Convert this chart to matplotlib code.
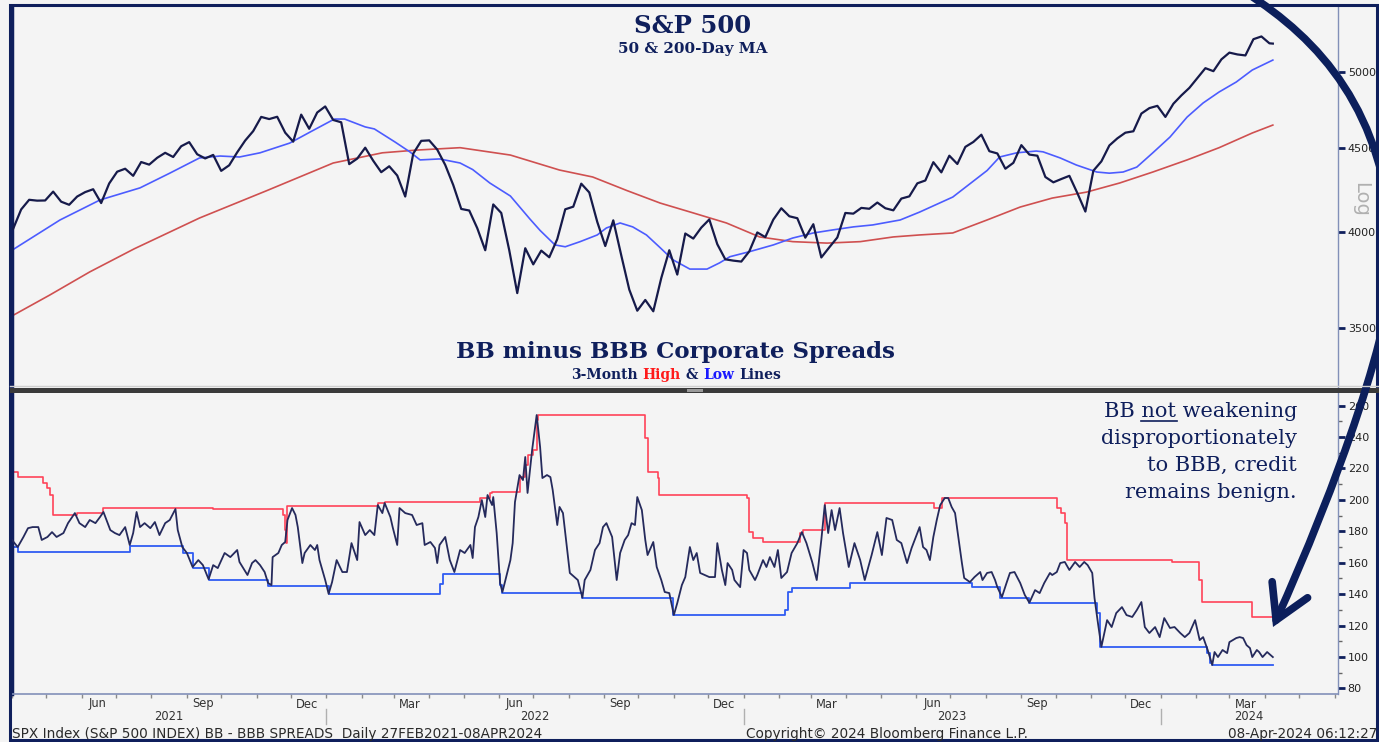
import numpy as np
import pandas as pd
import matplotlib
matplotlib.use('Agg')
import matplotlib.pyplot as plt
import matplotlib.dates as mdates
from matplotlib import transforms
from matplotlib.patches import Rectangle, FancyArrowPatch
from matplotlib.path import Path
from matplotlib.lines import Line2D
from matplotlib.ticker import FixedLocator, NullLocator, FuncFormatter

plt.rcParams['font.family'] = ['DejaVu Sans']

# ---------------- data ----------------
# S&P 500 weekly closes (Fridays) + last day
spx_dates = list(pd.date_range('2021-04-02', '2024-04-05', freq='W-FRI')) + [pd.Timestamp('2024-04-08')]
spx_close = [
    4019, 4129, 4185, 4180, 4181,  4233, 4174, 4156, 4204,  4230, 4247, 4166, 4281,
    4352, 4370, 4327, 4411, 4395,  4437, 4468, 4442, 4509,  4535, 4459, 4433, 4455,
    4357, 4391, 4471, 4545, 4605,  4697, 4683, 4698, 4595,  4538, 4712, 4620, 4726, 4766,
    4677, 4662, 4398, 4432,  4500, 4419, 4349, 4385,  4329, 4204, 4463, 4543,
    4546, 4488, 4393, 4272, 4132,  4123, 4023, 3901, 4158,  4109, 3901, 3675, 3912,
    3825, 3899, 3863, 3962, 4130,  4145, 4280, 4228, 4058,  3924, 4067, 3873, 3693, 3586,
    3640, 3583, 3753, 3901,  3771, 3993, 3965, 4026,  4072, 3934, 3852, 3845, 3840,
    3895, 3999, 3973, 4071,  4136, 4090, 4079, 3970,  4045, 3862, 3917, 3971, 4109,
    4105, 4138, 4133, 4169,  4136, 4124, 4192, 4205,  4282, 4299, 4410, 4348, 4450,
    4399, 4505, 4536, 4582,  4478, 4464, 4370, 4406,  4516, 4457, 4450, 4320, 4288,
    4308, 4327, 4224, 4117,  4358, 4415, 4514, 4559,  4595, 4604, 4719, 4755, 4770,
    4697, 4784, 4840, 4891,  4959, 5027, 5006, 5089,  5137, 5124, 5117, 5234, 5254,
    5204, 5202]

ma50_dates = ['2021-04-03', '2021-05-13', '2021-06-17', '2021-07-22', '2021-08-17', '2021-09-12',
              '2021-09-30', '2021-10-17', '2021-11-04', '2021-11-30', '2021-12-18', '2022-01-08',
              '2022-01-17', '2022-02-04', '2022-02-12', '2022-03-02', '2022-03-15', '2022-03-24',
              '2022-04-10', '2022-04-28', '2022-05-09', '2022-05-24', '2022-06-11', '2022-06-28',
              '2022-07-07', '2022-07-20', '2022-07-29', '2022-08-11', '2022-08-26', '2022-09-03',
              '2022-09-15', '2022-09-26', '2022-10-08', '2022-10-20', '2022-10-31', '2022-11-15',
              '2022-11-30', '2022-12-11', '2022-12-20', '2023-01-06', '2023-01-27', '2023-02-13',
              '2023-03-03', '2023-03-20', '2023-04-07', '2023-04-24', '2023-05-18', '2023-06-04',
              '2023-07-03', '2023-08-02', '2023-08-13', '2023-08-28', '2023-09-14', '2023-09-20',
              '2023-10-05', '2023-10-19', '2023-11-06', '2023-11-17', '2023-11-29', '2023-12-11',
              '2023-12-25', '2024-01-09', '2024-01-24', '2024-02-07', '2024-02-21', '2024-03-07',
              '2024-03-21', '2024-04-08']
ma50 = [3909, 4069, 4184, 4255, 4343, 4436, 4448, 4442, 4468, 4529, 4600, 4683,
        4683, 4632, 4619, 4536, 4474, 4424, 4430, 4405, 4365, 4284, 4207, 4075,
        4010, 3930, 3920, 3948, 3985, 4024, 4052, 4030, 3985, 3915, 3850, 3800,
        3800, 3833, 3866, 3893, 3930, 3968, 3996, 4013, 4030, 4041, 4069, 4114,
        4201, 4359, 4442, 4468, 4479, 4474, 4436, 4393, 4350, 4343, 4350, 4380,
        4468, 4567, 4696, 4789, 4863, 4931, 5014, 5084]

ma200_dates = ['2021-04-01', '2021-05-04', '2021-06-08', '2021-07-17', '2021-09-12', '2021-11-10',
               '2022-01-07', '2022-02-19', '2022-03-21', '2022-04-28', '2022-06-11', '2022-07-24',
               '2022-08-22', '2022-09-21', '2022-10-20', '2022-11-18', '2022-12-17', '2023-01-15',
               '2023-02-13', '2023-03-15', '2023-04-13', '2023-05-12', '2023-06-04', '2023-07-03',
               '2023-08-02', '2023-08-31', '2023-09-28', '2023-10-28', '2023-11-26', '2023-12-25',
               '2024-01-24', '2024-02-21', '2024-03-21', '2024-04-08']
ma200 = [3560, 3665, 3785, 3909, 4080, 4239, 4405, 4468, 4485, 4500, 4454, 4362,
         4320, 4239, 4166, 4109, 4052, 3974, 3948, 3940, 3948, 3974, 3985, 3996,
         4069, 4143, 4195, 4230, 4284, 4350, 4424, 4500, 4593, 4644]

# BB minus BBB spread (bp)
spread_dates = [
    '2021-04-01', '2021-04-06', '2021-04-11', '2021-04-15', '2021-04-19', '2021-04-24', '2021-04-27', '2021-05-02', '2021-05-06', '2021-05-10',
    '2021-05-16', '2021-05-20', '2021-05-26', '2021-05-30', '2021-06-04', '2021-06-08', '2021-06-13', '2021-06-17', '2021-06-20', '2021-06-26',
    '2021-06-30', '2021-07-04', '2021-07-09', '2021-07-13', '2021-07-16', '2021-07-19', '2021-07-22', '2021-07-26', '2021-07-31', '2021-08-04',
    '2021-08-08', '2021-08-13', '2021-08-17', '2021-08-22', '2021-08-24', '2021-08-28', '2021-09-01', '2021-09-06', '2021-09-11', '2021-09-15',
    '2021-09-20', '2021-09-24', '2021-09-28', '2021-10-04', '2021-10-09', '2021-10-15', '2021-10-17', '2021-10-24', '2021-10-28', '2021-10-31',
    '2021-11-04', '2021-11-08', '2021-11-11', '2021-11-14', '2021-11-15', '2021-11-20', '2021-11-23', '2021-11-26', '2021-11-28', '2021-12-02',
    '2021-12-05', '2021-12-07', '2021-12-11', '2021-12-13', '2021-12-18', '2021-12-22', '2021-12-24', '2021-12-26', '2021-12-31', '2022-01-03',
    '2022-01-06', '2022-01-10', '2022-01-15', '2022-01-19', '2022-01-23', '2022-01-28', '2022-01-30', '2022-02-04', '2022-02-08', '2022-02-12',
    '2022-02-15', '2022-02-19', '2022-02-21', '2022-02-26', '2022-02-28', '2022-03-04', '2022-03-06', '2022-03-11', '2022-03-17', '2022-03-21',
    '2022-03-26', '2022-03-28', '2022-04-02', '2022-04-06', '2022-04-08', '2022-04-10', '2022-04-15', '2022-04-19', '2022-04-23', '2022-04-28',
    '2022-05-02', '2022-05-07', '2022-05-09', '2022-05-11', '2022-05-14', '2022-05-17', '2022-05-20', '2022-05-22', '2022-05-26', '2022-05-27',
    '2022-05-30', '2022-06-02', '2022-06-04', '2022-06-06', '2022-06-11', '2022-06-13', '2022-06-15', '2022-06-19', '2022-06-22', '2022-06-24',
    '2022-06-26', '2022-06-30', '2022-07-04', '2022-07-07', '2022-07-09', '2022-07-13', '2022-07-16', '2022-07-18', '2022-07-22', '2022-07-24',
    '2022-07-27', '2022-07-30', '2022-08-02', '2022-08-06', '2022-08-09', '2022-08-13', '2022-08-15', '2022-08-20', '2022-08-24', '2022-08-28',
    '2022-08-31', '2022-09-03', '2022-09-08', '2022-09-12', '2022-09-15', '2022-09-19', '2022-09-22', '2022-09-25', '2022-09-28', '2022-09-30',
    '2022-10-04', '2022-10-07', '2022-10-09', '2022-10-14', '2022-10-17', '2022-10-21', '2022-10-24', '2022-10-28', '2022-11-01', '2022-11-04',
    '2022-11-08', '2022-11-11', '2022-11-15', '2022-11-18', '2022-11-21', '2022-11-24', '2022-11-28', '2022-12-02', '2022-12-07', '2022-12-09',
    '2022-12-13', '2022-12-16', '2022-12-18', '2022-12-22', '2022-12-24', '2022-12-29', '2023-01-01', '2023-01-04', '2023-01-06', '2023-01-11',
    '2023-01-13', '2023-01-18', '2023-01-21', '2023-01-24', '2023-01-28', '2023-01-31', '2023-02-03', '2023-02-08', '2023-02-12', '2023-02-17',
    '2023-02-21', '2023-02-25', '2023-03-02', '2023-03-06', '2023-03-10', '2023-03-13', '2023-03-16', '2023-03-19', '2023-03-22', '2023-03-26',
    '2023-03-29', '2023-04-03', '2023-04-08', '2023-04-13', '2023-04-17', '2023-04-23', '2023-04-28', '2023-05-02', '2023-05-06', '2023-05-11',
    '2023-05-15', '2023-05-19', '2023-05-24', '2023-05-28', '2023-06-04', '2023-06-07', '2023-06-10', '2023-06-13', '2023-06-16', '2023-06-19',
    '2023-06-22', '2023-06-26', '2023-06-29', '2023-07-02', '2023-07-05', '2023-07-07', '2023-07-11', '2023-07-13', '2023-07-18', '2023-07-22',
    '2023-07-27', '2023-07-29', '2023-08-02', '2023-08-06', '2023-08-09', '2023-08-11', '2023-08-15', '2023-08-19', '2023-08-22', '2023-08-26',
    '2023-08-31', '2023-09-04', '2023-09-08', '2023-09-13', '2023-09-17', '2023-09-21', '2023-09-26', '2023-09-28', '2023-10-02', '2023-10-05',
    '2023-10-09', '2023-10-13', '2023-10-18', '2023-10-22', '2023-10-26', '2023-10-29', '2023-11-02', '2023-11-04', '2023-11-07', '2023-11-10',
    '2023-11-15', '2023-11-19', '2023-11-23', '2023-11-28', '2023-12-02', '2023-12-07', '2023-12-11', '2023-12-15', '2023-12-18', '2023-12-22',
    '2023-12-27', '2023-12-31', '2024-01-04', '2024-01-09', '2024-01-13', '2024-01-18', '2024-01-22', '2024-01-26', '2024-01-31', '2024-02-04',
    '2024-02-07', '2024-02-11', '2024-02-15', '2024-02-17', '2024-02-20', '2024-02-24', '2024-02-28', '2024-03-01', '2024-03-04', '2024-03-07',
    '2024-03-10', '2024-03-13', '2024-03-16', '2024-03-19', '2024-03-21', '2024-03-25', '2024-03-27', '2024-03-30', '2024-04-03', '2024-04-08']
spread = [
    174.5, 170, 176.4, 182, 182.7, 182.7, 174.5, 176.4, 179.5, 176.4,
    178.9, 185.2, 191.6, 185.2, 182.7, 187.2, 185.2, 189.1, 192.3, 180.8,
    178.9, 177.6, 182.7, 171.3, 178.9, 192.3, 182.7, 185.2, 182, 185.9,
    177.6, 185.2, 187.2, 194.2, 180.8, 170, 166.2, 157.3, 161.7, 158.5,
    149.5, 158.5, 156.6, 166.2, 163.6, 168.1, 160.5, 152.2, 159.8, 161.7,
    158.5, 154.1, 147.1, 145.8, 163.6, 166.2, 171.3, 173.2, 187.2, 194.8,
    190.4, 182.7, 159.8, 166.2, 171.3, 168.1, 171.3, 161.7, 149, 140.2,
    147.7, 161.7, 154.1, 154.1, 172.5, 161.7, 185.9, 177.6, 180.8, 177.6,
    196.7, 191.6, 198, 189.1, 182.7, 171.3, 194.8, 191.6, 190.4, 184,
    185.2, 171.3, 173.2, 169.4, 159.8, 171.3, 176.4, 161.7, 154.1, 168.1,
    166.2, 171.3, 163, 182.7, 189.1, 199.9, 189.1, 203.1, 196.7, 201.8,
    178.9, 147.1, 141.4, 147.1, 161.7, 172.5, 198.6, 215.8, 212.6, 227.3,
    204.4, 231.7, 254, 233.6, 213.9, 215.8, 214.5, 206.3, 184, 195.5,
    191.6, 172.5, 153.5, 150.9, 149, 137.8, 149, 155.4, 168.1, 172.5,
    182.7, 185.2, 176.4, 149, 166.2, 174.5, 177.6, 185.2, 184, 201.8,
    193.5, 174.5, 164.9, 173.2, 157.3, 149, 141.4, 140.7, 126.8, 134.4,
    145.8, 150.9, 170, 161.7, 166.2, 153.5, 152.2, 150.9, 150.9, 172.5,
    155.4, 145.8, 159.8, 155.4, 149, 144.5, 168.1, 166.2, 155.4, 149,
    152.2, 161.7, 157.3, 163.6, 157.3, 168.1, 150.3, 154.1, 166.2, 172.5,
    179.5, 172.5, 160.5, 149, 174.5, 196.7, 178.9, 193.5, 180.8, 194.8,
    178.9, 157.3, 172.5, 161.7, 149, 164.9, 179.5, 164.9, 188.5, 187.2,
    174.5, 172.5, 159.8, 169.4, 182.7, 170, 168.1, 161.7, 176.4, 187.2,
    196.7, 201.2, 201.2, 195.5, 191.6, 180.8, 159.8, 150.3, 147.7, 150.9,
    154.1, 149, 153.5, 154.1, 149, 144.5, 138.2, 147.1, 153.5, 154.1,
    147.1, 139.5, 134.6, 142.6, 140.7, 147.1, 153.5, 152.2, 154.1, 159.8,
    160.5, 155.4, 160.5, 157.3, 160.5, 158.5, 153.5, 137.5, 121.6, 106.5,
    123.5, 119.1, 128, 131.8, 126.7, 125.5, 129.9, 135, 119.1, 115.3,
    119.1, 112.7, 124.8, 118.5, 119.1, 115.3, 112.7, 115.3, 123.5, 110.8,
    112.7, 104.5, 95, 103.2, 100, 104.5, 102.5, 109.5, 110.8, 112.1,
    112.7, 112.1, 107.6, 105.7, 100, 104.5, 103.2, 100, 103.2, 100]

# 3-month high / low step lines (value holds until next date)
high_dates = ['2021-04-01', '2021-04-06', '2021-04-28', '2021-05-02', '2021-05-04', '2021-05-07', '2021-05-28',
              '2021-06-20', '2021-09-24', '2021-11-24', '2021-11-26', '2021-11-27', '2021-11-28', '2022-02-15',
              '2022-02-21', '2022-05-15', '2022-05-24', '2022-05-26', '2022-06-19', '2022-06-24', '2022-06-26',
              '2022-07-01', '2022-07-04', '2022-07-05', '2022-10-07', '2022-10-09', '2022-10-18', '2022-10-19',
              '2023-01-04', '2023-01-06', '2023-01-09', '2023-01-18', '2023-02-19', '2023-02-22', '2023-03-13',
              '2023-06-17', '2023-06-24', '2023-10-02', '2023-10-06', '2023-10-09', '2023-10-11', '2024-01-11',
              '2024-02-03', '2024-02-06', '2024-03-21', '2024-04-08']
high_vals = [217.7, 214.5, 210.7, 207.5, 203.1, 190.4, 191.6, 194.8, 194.2, 190.4, 180.8, 172.5, 196.1, 198,
             198.6, 201.2, 204.4, 205, 214.5, 222.2, 228.5, 231.7, 250.8, 254, 239.4, 217.7, 213.9, 203.1,
             201.2, 179.5, 175.7, 173.2, 178.9, 180.8, 198, 194.8, 201.2, 194.8, 191.6, 185.2, 161.7, 160.5,
             149, 135, 125.5, 125.5]

low_dates = ['2021-04-01', '2021-04-06', '2021-07-13', '2021-08-29', '2021-09-06', '2021-09-20', '2021-11-11',
             '2022-01-03', '2022-04-10', '2022-04-13', '2022-06-02', '2022-06-04', '2022-08-13', '2022-10-31',
             '2023-02-06', '2023-02-09', '2023-02-12', '2023-04-04', '2023-07-20', '2023-08-13', '2023-09-08',
             '2023-11-06', '2023-11-09', '2024-02-10', '2024-02-13', '2024-02-15', '2024-04-08']
low_vals = [170, 166.8, 170.6, 166.2, 156.6, 149, 145.2, 140, 146.5, 152.8, 145.8, 140.7, 137.5, 126.7,
            129.9, 141.4, 143.9, 147.1, 144.5, 137.5, 134.4, 128, 106.4, 102.5, 96.2, 95, 95]

month_labels = ['Jun', 'Sep', 'Dec', 'Mar', 'Jun', 'Sep', 'Dec', 'Mar', 'Jun', 'Sep', 'Dec', 'Mar']
month_label_dates = ['2021-06-15', '2021-09-15', '2021-12-15', '2022-03-15', '2022-06-15', '2022-09-15',
                     '2022-12-15', '2023-03-15', '2023-06-15', '2023-09-15', '2023-12-15', '2024-03-15']
year_labels = ['2021', '2022', '2023', '2024']
year_label_dates = ['2021-08-16', '2022-07-02', '2023-07-02', '2024-03-18']
year_breaks = ['2022-01-01', '2023-01-01', '2024-01-01']

# ---------------- figure ----------------
W, H = 1379, 742
bg = '#f4f4f4'
navy = '#0f1f5c'
fig = plt.figure(figsize=(W / 100, H / 100), dpi=100, facecolor=bg)
px = transforms.Affine2D().scale(1 / W, -1 / H).translate(0, 1) + fig.transFigure

ax1 = fig.add_axes([12 / W, 1 - 388 / H, 1326 / W, 381 / H], facecolor=bg)
ax2 = fig.add_axes([12 / W, 1 - 694 / H, 1326 / W, 301 / H], facecolor=bg)
x0, x1 = np.datetime64('2021-04-01'), np.datetime64('2024-06-04')

# top panel
ax1.plot(pd.to_datetime(ma200_dates), ma200, color='#cf5050', lw=1.2, zorder=2)
ax1.plot(pd.to_datetime(ma50_dates), ma50, color='#4c5cff', lw=1.2, zorder=2)
ax1.plot(spx_dates, spx_close, color='#161a4a', lw=1.6, zorder=3)
ax1.set_yscale('log')
ax1.set_ylim(3220, 5474)
ax1.set_xlim(x0, x1)
ax1.yaxis.tick_right()
ax1.yaxis.set_major_locator(FixedLocator([3500, 4000, 4500, 5000]))
ax1.yaxis.set_minor_locator(NullLocator())
ax1.yaxis.set_major_formatter(FuncFormatter(lambda v, p: f'{v:.0f}'))
ax1.tick_params(axis='y', which='major', direction='out', length=5, width=2, color=navy,
                labelsize=8, labelcolor='#222222', pad=2)
ax1.tick_params(axis='x', bottom=False, labelbottom=False)

# bottom panel
ax2.plot(pd.to_datetime(high_dates), high_vals, color='#ff4358', lw=1.2, drawstyle='steps-post', zorder=2)
ax2.plot(pd.to_datetime(low_dates), low_vals, color='#2f5cf2', lw=1.3, drawstyle='steps-post', zorder=2)
ax2.plot(pd.to_datetime(spread_dates), spread, color='#252a5c', lw=1.3, zorder=3)
ax2.set_ylim(76.5, 268)
ax2.set_xlim(x0, x1)
ax2.yaxis.tick_right()
ax2.yaxis.set_major_locator(FixedLocator(list(range(80, 261, 20))))
ax2.yaxis.set_minor_locator(FixedLocator(list(range(90, 251, 20))))
ax2.tick_params(axis='y', which='major', direction='out', length=5, width=2, color=navy,
                labelsize=8, labelcolor='#222222', pad=2)
ax2.tick_params(axis='y', which='minor', direction='out', length=3, width=1, color='#666666')
ax2.xaxis.set_major_locator(mdates.MonthLocator())
ax2.tick_params(axis='x', which='major', direction='out', length=3, width=1, color='#8a8a8a',
                labelbottom=False)

for ax in (ax1, ax2):
    ax.spines['top'].set_visible(False)
    ax.spines['left'].set_color(navy)
    ax.spines['left'].set_linewidth(2.5)
    ax.spines['right'].set_color('#8290b8')
    ax.spines['right'].set_linewidth(1)
ax1.spines['bottom'].set_visible(False)
ax2.spines['bottom'].set_color('#8290b8')
ax2.spines['bottom'].set_linewidth(1.2)

# x labels (months at mid-month, years centred)
xb = transforms.blended_transform_factory(ax2.transData, px)
for lab, d in zip(month_labels, month_label_dates):
    ax2.text(np.datetime64(d), 704, lab, transform=xb, ha='center', va='center', fontsize=8.3,
             color='#333333', clip_on=False)
for lab, d in zip(year_labels, year_label_dates):
    ax2.text(np.datetime64(d), 717, lab, transform=xb, ha='center', va='center', fontsize=8.3,
             color='#333333', clip_on=False)
for d in year_breaks:
    ax2.add_line(Line2D([np.datetime64(d)] * 2, [709, 724], transform=xb, color='#b0b0b0', lw=1,
                        clip_on=False))

# frame and panel separator
fig.add_artist(Rectangle((10, 740), 1367, -735, transform=px, fill=False, ec=navy, lw=2.2))
fig.add_artist(Rectangle((10, 392.5), 1369, -5, transform=px, fc='#3a3a3a', ec='none'))
fig.add_artist(Line2D([10, 1379], [386, 386], transform=px, color='#cfcfcf', lw=1))
fig.add_artist(Rectangle((687, 391.5), 16, -2.5, transform=px, fc='#9a9a9a', ec='none'))

# titles
serif = 'DejaVu Serif'
fig.text(693, 33, 'S&P 500', transform=px, ha='center', va='baseline', fontsize=17.5,
         fontweight='bold', family=serif, color=navy)
fig.text(693, 53, '50 & 200-Day MA', transform=px, ha='center', va='baseline', fontsize=11,
         fontweight='bold', family=serif, color=navy)
fig.text(676, 358, 'BB minus BBB Corporate Spreads', transform=px, ha='center', va='baseline',
         fontsize=16.5, fontweight='bold', family=serif, color=navy)

rend = fig.canvas.get_renderer()


def text_w(s, **kw):
    t = fig.text(0, 0, s, **kw)
    w = t.get_window_extent(rend).width
    t.remove()
    return w


def prefix_w(s, **kw):
    if not s:
        return 0.0
    return text_w(s + '|', **kw) - text_w('|', **kw)


sub_parts = [('3-Month ', navy), ('High', '#ff1a1a'), (' & ', navy), ('Low', '#1a1aff'), (' Lines', navy)]
kw = dict(fontsize=10, fontweight='bold', family=serif)
full = ''.join(s for s, _ in sub_parts)
start = 676 - text_w(full, **kw) / 2
prefix = ''
for s, c in sub_parts:
    lead = len(s) - len(s.lstrip())
    off = prefix_w(prefix + s[:lead], **kw)
    fig.text(start + off, 379, s.strip(), transform=px, ha='left', va='baseline', color=c, **kw)
    prefix += s

# annotation
ann_lines = ['BB not weakening', 'disproportionately', 'to BBB, credit', 'remains benign.']
ann_base = [417, 444, 471, 498]
akw = dict(fontsize=15, family=serif)
for s, yb in zip(ann_lines, ann_base):
    fig.text(1297, yb, s, transform=px, ha='right', va='baseline', color=navy, **akw)
u0 = 1297 - text_w('not weakening', **akw)
u1 = 1297 - prefix_w(' weakening', **akw) + 1
fig.add_artist(Line2D([u0, u1], [420.5, 420.5], transform=px, color=navy, lw=1.2))

# log label
fig.text(1361, 199, 'Log', transform=px, ha='center', va='center', rotation=270, fontsize=14,
         color='#b0b0b0')

# footer
fkw = dict(fontsize=9.8, color='#2a2a2a', va='baseline', transform=px)
fig.text(12, 738, 'SPX Index (S&P 500 INDEX) BB - BBB SPREADS  Daily 27FEB2021-08APR2024', ha='left', **fkw)
fig.text(746, 738, 'Copyright\u00a9 2024 Bloomberg Finance L.P.', ha='left', **fkw)
fig.text(1377, 738, '08-Apr-2024 06:12:27', ha='right', **fkw)

# big curved arrow
verts = [(1245, -8), (1320, 40), (1385, 110), (1393, 250),
         (1397, 320), (1335, 490), (1273, 627)]
codes = [Path.MOVETO, Path.CURVE4, Path.CURVE4, Path.CURVE4, Path.CURVE4, Path.CURVE4, Path.CURVE4]
arrow = FancyArrowPatch(path=Path(verts, codes), arrowstyle='->,head_length=2.4,head_width=1.4',
                        mutation_scale=10, lw=5.5, color='#0c1f5c', transform=px,
                        capstyle='round', joinstyle='miter')
fig.add_artist(arrow)

fig.savefig('out.png', dpi=100, facecolor=bg)
